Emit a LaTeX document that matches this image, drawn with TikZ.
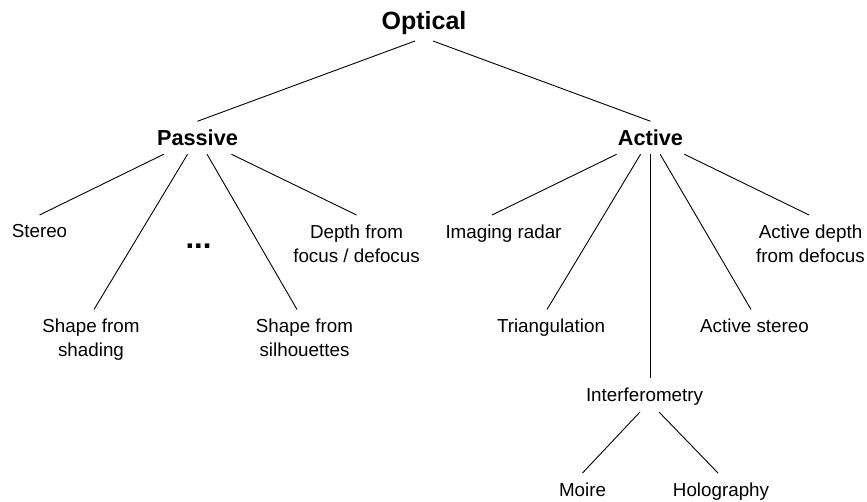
\documentclass[tikz,border=0pt]{standalone}
\usepackage{fontspec}
\setmainfont{Liberation Sans}
\begin{document}
\begin{tikzpicture}[x=1pt,y=-1pt,
  leaf/.style={anchor=north,align=center,inner xsep=2pt,inner ysep=9.5pt,outer sep=0pt,
    font=\fontsize{18.8}{24}\selectfont},
  mid/.style={anchor=north,inner xsep=2pt,inner ysep=8.75pt,outer sep=0pt,text height=15.5pt,text depth=0pt,
    font=\fontsize{21.7}{26}\selectfont\bfseries},
  edge/.style={line width=0.9pt,black}]
\useasboundingbox (0,0) rectangle (867,502);
% root
\node[anchor=base,inner xsep=2pt,inner ysep=11.4pt,outer sep=0pt,text depth=0pt,
  font=\fontsize{25}{30}\selectfont\bfseries] (optical) at (424,29.6) {Optical};
% second level
\node[mid] (passive) at (197.5,121.25) {Passive};
\node[mid] (active) at (650.5,121.25) {Active};
% passive children
\node[leaf] (stereo) at (39.5,215) {Stereo};
\node[leaf] (shading) at (91,309.5) {Shape from\\shading};
\node[anchor=base,inner sep=0pt,font=\fontsize{31}{34}\selectfont\bfseries] (dots) at (198.5,248.3) {...};
\node[leaf] (silh) at (304.5,309.5) {Shape from\\silhouettes};
\node[leaf] (depth) at (356.5,215) {Depth from\\focus / defocus};
% active children
\node[leaf] (radar) at (503.5,215) {Imaging radar};
\node[leaf] (tri) at (551,309.5) {Triangulation};
\node[leaf] (interf) at (644.5,378) {Interferometry};
\node[leaf] (astereo) at (754.5,309.5) {Active stereo};
\node[leaf] (adepth) at (810.5,215) {Active depth\\from defocus};
% interferometry children
\node[leaf] (moire) at (582.5,473) {Moire};
\node[leaf] (holo) at (721,473) {Holography};
% connectors
\draw[edge] ([xshift=-9pt]optical.south) -- (passive.north);
\draw[edge] ([xshift=9pt]optical.south) -- (active.north);
\draw[edge] (passive) -- (stereo.north);
\draw[edge] (passive) -- ([xshift=3pt]shading.north);
\draw[edge] (passive) -- ([xshift=-7.5pt]silh.north);
\draw[edge] (passive) -- (depth.north);
\draw[edge] (active) -- ([xshift=-11.5pt]radar.north);
\draw[edge] (active) -- ([xshift=-4pt]tri.north);
\draw[edge] (active.south) -- (active.south |- interf.north);
\draw[edge] (active) -- ([xshift=-3.5pt]astereo.north);
\draw[edge] (active) -- ([xshift=-1.5pt]adepth.north);
\draw[edge] ([xshift=-4.5pt,yshift=2.5pt]interf.south) -- (moire.north);
\draw[edge] ([xshift=14.5pt,yshift=2.5pt]interf.south) -- ([xshift=-3pt]holo.north);
\end{tikzpicture}
\end{document}
